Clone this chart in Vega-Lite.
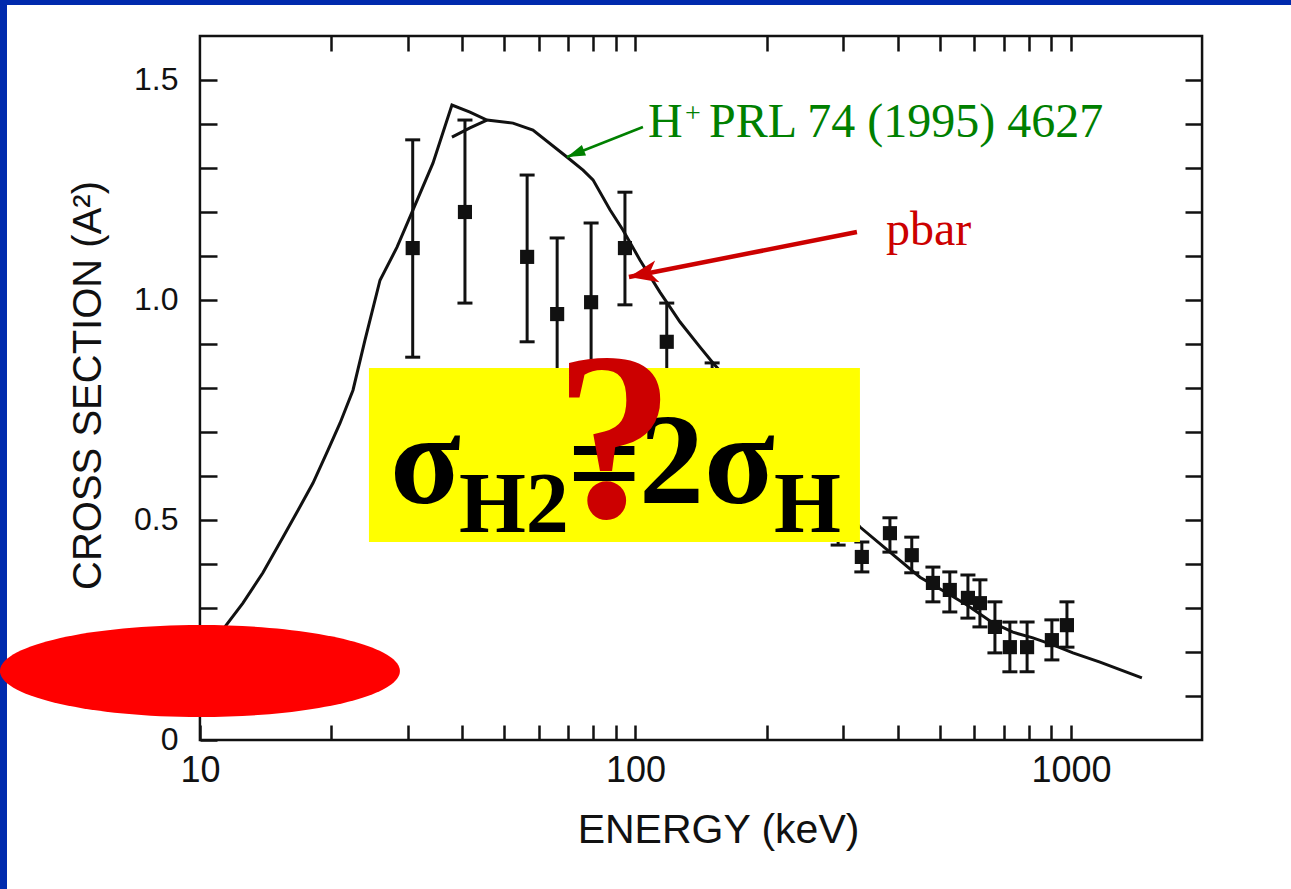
{
  "$schema": "https://vega.github.io/schema/vega-lite/v6.json",
  "width": 1284,
  "height": 884,
  "padding": {"left": 7, "top": 5, "right": 0, "bottom": 0},
  "autosize": {"type": "none"},
  "background": "#002aad",
  "config": {
    "view": {"fill": "#ffffff", "stroke": null},
    "axis": {"grid": false, "domain": false}
  },
  "datasets": {
    "frame": [{"x": 10, "x2": 2000, "y": 0, "y2": 1.6}],
    "curve": [
      {"x": 10, "y": 0.18}, {"x": 11.41, "y": 0.257}, {"x": 12.55, "y": 0.311}, {"x": 13.95, "y": 0.38},
      {"x": 15.51, "y": 0.461}, {"x": 16.97, "y": 0.53}, {"x": 18.18, "y": 0.584}, {"x": 19.68, "y": 0.659},
      {"x": 20.97, "y": 0.72}, {"x": 22.46, "y": 0.795}, {"x": 23.93, "y": 0.909}, {"x": 25.91, "y": 1.045},
      {"x": 28.35, "y": 1.12}, {"x": 30.85, "y": 1.205}, {"x": 34.28, "y": 1.311}, {"x": 37.9, "y": 1.443},
      {"x": 41.69, "y": 1.427}, {"x": 45.6, "y": 1.409}, {"x": 52.33, "y": 1.402}, {"x": 58.16, "y": 1.386},
      {"x": 69.6, "y": 1.325}, {"x": 75.8, "y": 1.295}, {"x": 79.9, "y": 1.273}, {"x": 87.4, "y": 1.205},
      {"x": 93.6, "y": 1.159}, {"x": 102.4, "y": 1.091}, {"x": 113.8, "y": 1.018}, {"x": 126.6, "y": 0.95},
      {"x": 140.7, "y": 0.893}, {"x": 150.7, "y": 0.857}, {"x": 226.3, "y": 0.659}, {"x": 327.8, "y": 0.484},
      {"x": 384.1, "y": 0.427}, {"x": 450.1, "y": 0.37}, {"x": 519.2, "y": 0.334}, {"x": 576.9, "y": 0.307},
      {"x": 662.2, "y": 0.266}, {"x": 735.8, "y": 0.245}, {"x": 817.8, "y": 0.232}, {"x": 909.3, "y": 0.216},
      {"x": 1010.6, "y": 0.198}, {"x": 1166, "y": 0.177}, {"x": 1455, "y": 0.141}
    ],
    "curve2": [{"x": 37.9, "y": 1.37}, {"x": 41.69, "y": 1.391}, {"x": 45.6, "y": 1.409}],
    "pts": [
      {"x": 30.8, "y": 1.118, "lo": 0.87, "hi": 1.364},
      {"x": 40.6, "y": 1.2, "lo": 0.993, "hi": 1.409},
      {"x": 56.4, "y": 1.098, "lo": 0.905, "hi": 1.284},
      {"x": 66.1, "y": 0.968, "lo": 0.795, "hi": 1.141},
      {"x": 79.1, "y": 0.995, "lo": 0.815, "hi": 1.175},
      {"x": 94.6, "y": 1.118, "lo": 0.989, "hi": 1.245},
      {"x": 118, "y": 0.905, "lo": 0.817, "hi": 0.993},
      {"x": 150, "y": 0.78, "lo": 0.7, "hi": 0.857},
      {"x": 292, "y": 0.49, "lo": 0.443, "hi": 0.54},
      {"x": 331, "y": 0.416, "lo": 0.382, "hi": 0.45},
      {"x": 384, "y": 0.47, "lo": 0.427, "hi": 0.505},
      {"x": 431, "y": 0.42, "lo": 0.38, "hi": 0.461},
      {"x": 482, "y": 0.357, "lo": 0.314, "hi": 0.393},
      {"x": 527, "y": 0.341, "lo": 0.291, "hi": 0.382},
      {"x": 580, "y": 0.323, "lo": 0.277, "hi": 0.375},
      {"x": 618, "y": 0.311, "lo": 0.257, "hi": 0.364},
      {"x": 669, "y": 0.257, "lo": 0.198, "hi": 0.314},
      {"x": 724, "y": 0.211, "lo": 0.155, "hi": 0.268},
      {"x": 793, "y": 0.211, "lo": 0.155, "hi": 0.268},
      {"x": 904, "y": 0.227, "lo": 0.182, "hi": 0.273},
      {"x": 979, "y": 0.261, "lo": 0.211, "hi": 0.314}
    ],
    "garrow": [{"x": 69.63, "y": 1.325, "x2": 104.04, "y2": 1.3932}],
    "rarrow": [{"x": 96.62, "y": 1.0523, "x2": 322.5, "y2": 1.1545}],
    "gtext": [{"x": 106.8, "y": 1.3705, "t": "H"}, {"x": 147.5, "y": 1.3705, "t": "PRL 74 (1995) 4627"}],
    "gplus": [{"x": 129.9, "y": 1.4045, "t": "+"}],
    "rtext": [{"x": 376, "y": 1.125, "t": "pbar"}],
    "box": [{"x": 24.44, "x2": 327.7, "y": 0.45, "y2": 0.84545}],
    "formula": [{"x": 27.31, "y": 0.5386, "t": "σ"}, {"x": 69.81, "y": 0.5318, "t": "="}, {"x": 101.9, "y": 0.5386, "t": "2σ"}],
    "subs": [{"x": 39.33, "y": 0.4727, "t": "H2"}, {"x": 208.0, "y": 0.4727, "t": "H"}],
    "qmark": [{"x": 89.47, "y": 0.5068, "t": "?"}],
    "ellipse": [{"x": 10, "y": 0.1568}]
  },
  "layer": [
    {
      "data": {"name": "frame"},
      "mark": {"type": "rect", "filled": false, "stroke": "#111111", "strokeWidth": 2.5},
      "encoding": {
        "x": {"field": "x", "type": "quantitative",
          "scale": {"type": "log", "domain": [3.6058, 3200.6], "nice": false, "zero": false},
          "axis": {"orient": "top", "offset": -31, "values": [20, 30, 40, 50, 60, 70, 80, 90, 100, 200, 300, 400, 500, 600, 700, 800, 900, 1000],
            "labels": false, "tickSize": -15, "tickWidth": 2.5, "tickColor": "#111111", "title": null}},
        "x2": {"field": "x2"},
        "y": {"field": "y", "type": "quantitative",
          "scale": {"domain": [-0.33864, 1.67045], "nice": false, "zero": false},
          "axis": {"orient": "right", "offset": -89, "values": [0.1, 0.2, 0.3, 0.4, 0.5, 0.6, 0.7, 0.8, 0.9, 1.0, 1.1, 1.2, 1.3, 1.4, 1.5],
            "labels": false, "tickSize": -17, "tickWidth": 2.5, "tickColor": "#111111", "title": null}},
        "y2": {"field": "y2"}
      }
    },
    {
      "encoding": {
        "x": {"field": "x", "type": "quantitative",
          "scale": {"type": "log", "domain": [3.6058, 3200.6], "nice": false, "zero": false},
          "axis": {"orient": "bottom", "offset": -149,
            "values": [10, 20, 30, 40, 50, 60, 70, 80, 90, 100, 200, 300, 400, 500, 600, 700, 800, 900, 1000],
            "tickSize": -15, "tickWidth": 2.5, "tickColor": "#111111",
            "labelExpr": "datum.value === 10 || datum.value === 100 || datum.value === 1000 ? format(datum.value, 'd') : ''",
            "labelPadding": 28, "labelFont": "Liberation Sans", "labelFontSize": 36, "labelColor": "#111111",
            "labelOverlap": false, "labelFlush": false, "labelBound": false,
            "title": "ENERGY (keV)", "titleFont": "Liberation Sans", "titleFontSize": 41, "titleFontWeight": "normal",
            "titleColor": "#111111", "titleX": 711, "titleY": 102, "titleAlign": "center", "titleBaseline": "alphabetic"}},
        "y": {"field": "y", "type": "quantitative",
          "scale": {"domain": [-0.33864, 1.67045], "nice": false, "zero": false},
          "axis": {"orient": "left", "offset": -193,
            "values": [0, 0.1, 0.2, 0.3, 0.4, 0.5, 0.6, 0.7, 0.8, 0.9, 1.0, 1.1, 1.2, 1.3, 1.4, 1.5],
            "tickSize": -17, "tickWidth": 2.5, "tickColor": "#111111",
            "labelExpr": "datum.value === 0 ? '0' : (datum.value === 0.5 || datum.value === 1 || datum.value === 1.5 ? format(datum.value, '.1f') : '')",
            "labelPadding": 39, "labelFont": "Liberation Sans", "labelFontSize": 32, "labelColor": "#111111",
            "labelOverlap": false, "labelFlush": false, "labelBound": false,
            "title": "CROSS SECTION (A²)", "titleFont": "Liberation Sans", "titleFontSize": 40, "titleFontWeight": "normal",
            "titleColor": "#111111", "titleX": -100, "titleY": 380, "titleAngle": -90, "titleAlign": "center", "titleBaseline": "alphabetic"}}
      },
      "layer": [
        {"data": {"name": "curve"}, "mark": {"type": "line", "color": "#111111", "strokeWidth": 3}},
        {"data": {"name": "curve2"}, "mark": {"type": "line", "color": "#111111", "strokeWidth": 3}},
        {"data": {"name": "pts"},
          "mark": {"type": "rule", "color": "#111111", "strokeWidth": 3},
          "encoding": {"y2": {"field": "hi"}, "y": {"field": "lo", "type": "quantitative",
            "scale": {"domain": [-0.33864, 1.67045], "nice": false, "zero": false},
            "axis": {"orient": "left", "offset": -193,
              "values": [0, 0.1, 0.2, 0.3, 0.4, 0.5, 0.6, 0.7, 0.8, 0.9, 1.0, 1.1, 1.2, 1.3, 1.4, 1.5],
              "tickSize": -17, "tickWidth": 2.5, "tickColor": "#111111",
              "labelExpr": "datum.value === 0 ? '0' : (datum.value === 0.5 || datum.value === 1 || datum.value === 1.5 ? format(datum.value, '.1f') : '')",
              "labelPadding": 39, "labelFont": "Liberation Sans", "labelFontSize": 32, "labelColor": "#111111",
              "labelOverlap": false, "labelFlush": false, "labelBound": false,
              "title": "CROSS SECTION (A²)", "titleFont": "Liberation Sans", "titleFontSize": 40, "titleFontWeight": "normal",
              "titleColor": "#111111", "titleX": -100, "titleY": 380, "titleAngle": -90, "titleAlign": "center", "titleBaseline": "alphabetic"}}}},
        {"data": {"name": "pts"}, "mark": {"type": "tick", "orient": "horizontal", "size": 15, "thickness": 3, "color": "#111111", "opacity": 1},
          "encoding": {"y": {"field": "lo", "type": "quantitative",
            "scale": {"domain": [-0.33864, 1.67045], "nice": false, "zero": false},
            "axis": {"orient": "left", "offset": -193,
              "values": [0, 0.1, 0.2, 0.3, 0.4, 0.5, 0.6, 0.7, 0.8, 0.9, 1.0, 1.1, 1.2, 1.3, 1.4, 1.5],
              "tickSize": -17, "tickWidth": 2.5, "tickColor": "#111111",
              "labelExpr": "datum.value === 0 ? '0' : (datum.value === 0.5 || datum.value === 1 || datum.value === 1.5 ? format(datum.value, '.1f') : '')",
              "labelPadding": 39, "labelFont": "Liberation Sans", "labelFontSize": 32, "labelColor": "#111111",
              "labelOverlap": false, "labelFlush": false, "labelBound": false,
              "title": "CROSS SECTION (A²)", "titleFont": "Liberation Sans", "titleFontSize": 40, "titleFontWeight": "normal",
              "titleColor": "#111111", "titleX": -100, "titleY": 380, "titleAngle": -90, "titleAlign": "center", "titleBaseline": "alphabetic"}}}},
        {"data": {"name": "pts"}, "mark": {"type": "tick", "orient": "horizontal", "size": 15, "thickness": 3, "color": "#111111", "opacity": 1},
          "encoding": {"y": {"field": "hi", "type": "quantitative",
            "scale": {"domain": [-0.33864, 1.67045], "nice": false, "zero": false},
            "axis": {"orient": "left", "offset": -193,
              "values": [0, 0.1, 0.2, 0.3, 0.4, 0.5, 0.6, 0.7, 0.8, 0.9, 1.0, 1.1, 1.2, 1.3, 1.4, 1.5],
              "tickSize": -17, "tickWidth": 2.5, "tickColor": "#111111",
              "labelExpr": "datum.value === 0 ? '0' : (datum.value === 0.5 || datum.value === 1 || datum.value === 1.5 ? format(datum.value, '.1f') : '')",
              "labelPadding": 39, "labelFont": "Liberation Sans", "labelFontSize": 32, "labelColor": "#111111",
              "labelOverlap": false, "labelFlush": false, "labelBound": false,
              "title": "CROSS SECTION (A²)", "titleFont": "Liberation Sans", "titleFontSize": 40, "titleFontWeight": "normal",
              "titleColor": "#111111", "titleX": -100, "titleY": 380, "titleAngle": -90, "titleAlign": "center", "titleBaseline": "alphabetic"}}}},
        {"data": {"name": "pts"}, "mark": {"type": "point", "shape": "square", "filled": true, "size": 200, "color": "#111111", "opacity": 1}},
        {"data": {"name": "garrow"}, "mark": {"type": "rule", "color": "#008000", "strokeWidth": 2.5},
          "encoding": {"x2": {"field": "x2"}, "y2": {"field": "y2"}}},
        {"data": {"name": "garrow"}, "mark": {"type": "point", "shape": "M0,0L0.5,1.6L-0.5,1.6Z", "filled": true, "size": 520, "angle": 248.5, "color": "#008000", "opacity": 1}},
        {"data": {"name": "rarrow"}, "mark": {"type": "rule", "color": "#cc0000", "strokeWidth": 4.5},
          "encoding": {"x2": {"field": "x2"}, "y2": {"field": "y2"}}},
        {"data": {"name": "rarrow"}, "mark": {"type": "point", "shape": "M0,0L0.65,1.7L0,1.25L-0.65,1.7Z", "filled": true, "size": 1156, "angle": 258.8, "color": "#cc0000", "opacity": 1}},
        {"data": {"name": "gtext"}, "mark": {"type": "text", "font": "Liberation Serif", "fontSize": 48, "color": "#008000", "align": "left", "baseline": "alphabetic"},
          "encoding": {"text": {"field": "t"}}},
        {"data": {"name": "gplus"}, "mark": {"type": "text", "font": "Liberation Serif", "fontSize": 28, "color": "#008000", "align": "left", "baseline": "alphabetic"},
          "encoding": {"text": {"field": "t"}}},
        {"data": {"name": "rtext"}, "mark": {"type": "text", "font": "Liberation Serif", "fontSize": 48, "color": "#cc0000", "align": "left", "baseline": "alphabetic"},
          "encoding": {"text": {"field": "t"}}},
        {"data": {"name": "box"}, "mark": {"type": "rect", "color": "#ffff00", "opacity": 1},
          "encoding": {"x2": {"field": "x2"}, "y2": {"field": "y2"}}},
        {"data": {"name": "formula"}, "mark": {"type": "text", "font": "Liberation Serif", "fontWeight": "bold", "fontSize": 130, "color": "#000000", "align": "left", "baseline": "alphabetic"},
          "encoding": {"text": {"field": "t"}}},
        {"data": {"name": "subs"}, "mark": {"type": "text", "font": "Liberation Serif", "fontWeight": "bold", "fontSize": 86, "color": "#000000", "align": "left", "baseline": "alphabetic"},
          "encoding": {"text": {"field": "t"}}},
        {"data": {"name": "qmark"}, "mark": {"type": "text", "font": "Liberation Serif", "fontWeight": "bold", "fontSize": 240, "color": "#cc0000", "align": "center", "baseline": "alphabetic"},
          "encoding": {"text": {"field": "t"}}},
        {"data": {"name": "ellipse"}, "mark": {"type": "point", "shape": "M-1,0C-1,-0.127,-0.5523,-0.23,0,-0.23C0.5523,-0.23,1,-0.127,1,0C1,0.127,0.5523,0.23,0,0.23C-0.5523,0.23,-1,0.127,-1,0Z", "filled": true, "size": 160000, "color": "#ff0000", "opacity": 1}}
      ]
    }
  ],
  "resolve": {"axis": {"x": "independent", "y": "independent"}}
}
